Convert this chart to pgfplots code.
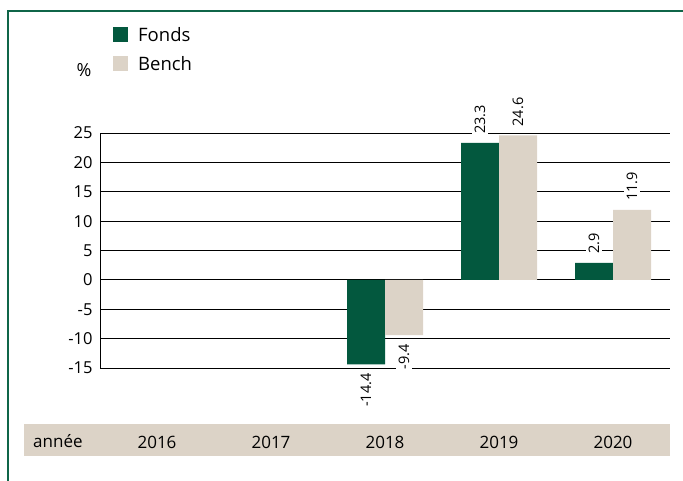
\documentclass[border=0pt]{standalone}
\usepackage{pgfplots}
\pgfplotsset{compat=1.18}
\usepackage{fontspec}
\setmainfont{Open Sans}
\definecolor{fonds}{HTML}{03583E}
\definecolor{bench}{HTML}{DCD3C7}
\definecolor{frame}{HTML}{0F6548}
\begin{document}
\begin{tikzpicture}[x=1pt,y=1pt]
\path[use as bounding box] (0,0) rectangle (683,481);
\draw[frame, line width=1.6pt] (8,0) -- (8,470) -- (683,470);
\fill[bench] (24,25) rectangle (670,57);
\node[anchor=base west, font=\fontsize{17}{20}\selectfont, inner sep=0pt] at (33,33) {année};
\begin{axis}[
  at={(100pt,113pt)}, anchor=south west,
  scale only axis, width=570pt, height=235pt,
  xmin=-0.5, xmax=4.5, ymin=-15, ymax=25,
  ytick={-15,-10,...,25},
  xtick={0,1,2,3,4},
  xticklabels={2016,2017,2018,2019,2020},
  xticklabel style={anchor=base, yshift=-76pt, font=\fontsize{17}{20}\selectfont},
  yticklabel style={font=\fontsize{16.5}{18}\selectfont, xshift=-4pt},
  /pgf/number format/assume math mode=true,
  tick style={draw=none},
  ymajorgrids, major grid style={black, line width=0.8pt},
  axis x line*=bottom,
  x axis line style={draw=none},
  axis y line*=left,
  y axis line style={black, line width=0.8pt, -},
  ybar=0pt, bar width=38pt,
  clip=false,
  nodes near coords,
  visualization depends on={rawy \as \rawy},
  every node near coord/.append style={/pgf/number format/fixed, /pgf/number format/precision=1, /pgf/number format/zerofill, rotate=90, anchor={\ifdim\rawy pt<0pt east\else west\fi}, fill=white, inner xsep=4pt, inner ysep=3pt, outer xsep=5pt, font=\fontsize{14.5}{16}\selectfont, text=black},
  legend style={at={(axis description cs:0.0228,1.452)}, anchor=north west, draw=none, fill=none, inner sep=0pt, row sep=14pt, font=\fontsize{18.5}{20}\selectfont, nodes={inner sep=0pt, anchor=west, text depth=0pt}, /tikz/every odd column/.append style={column sep=10pt}},
  legend cell align=left,
]
\addplot[fill=fonds, draw=none, legend image code/.code={\fill[fonds] (0pt,-7.5pt) rectangle (15pt,7.5pt);}] coordinates {(2,-14.4) (3,23.3) (4,2.9)};
\addplot[fill=bench, draw=none, legend image code/.code={\fill[bench] (0pt,-7.5pt) rectangle (15pt,7.5pt);}] coordinates {(2,-9.4) (3,24.6) (4,11.9)};
\legend{Fonds,Bench}
\node[anchor=center, font=\fontsize{18}{20}\selectfont] at (axis description cs:-0.028,1.268) {\%};
\end{axis}
\end{tikzpicture}
\end{document}
